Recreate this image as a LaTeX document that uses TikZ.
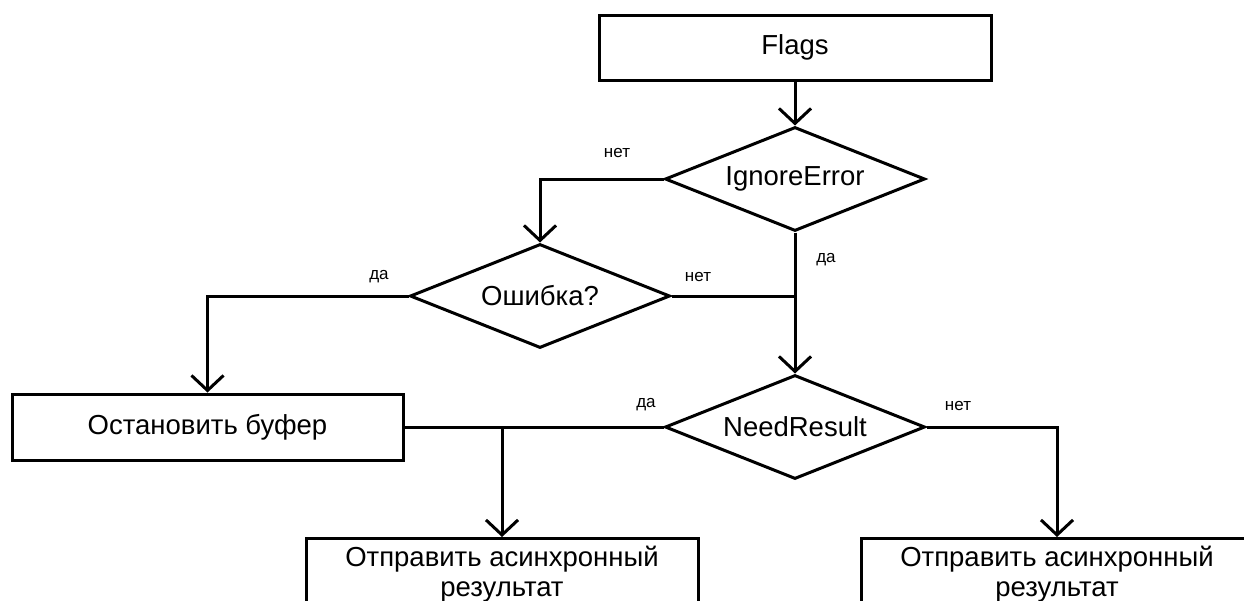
\documentclass[tikz,border=0pt]{standalone}
\usepackage{fontspec}
\setmainfont{Liberation Sans}
\usetikzlibrary{shapes.geometric,arrows.meta}
\begin{document}
\begin{tikzpicture}[x=1pt,y=-1pt,
  every node/.style={font=\fontsize{27.5}{29.5}\selectfont},
  box/.style={draw,line width=3pt,rectangle,inner sep=0pt},
  dec/.style={draw,line width=3pt,diamond,minimum width=260pt,minimum height=104pt,inner sep=0pt,aspect=2.5},
  wire/.style={line width=3pt},
  conn/.style={wire,-{Straight Barb[length=15pt,width=32pt,line width=3pt]}},
  lab/.style={font=\fontsize{17}{19}\selectfont,inner sep=0pt}]
\useasboundingbox (0,0) rectangle (1244,600);
\clip (0,0) rectangle (1244,600);
\fill[white] (0,0) rectangle (1244,600);

\node[box,minimum width=392pt,minimum height=65pt] (flags) at (795,47.5) {Flags};
\node[dec] (ign) at (795,179) {IgnoreError};
\node[dec] (err) at (540,296) {Ошибка?};
\node[dec] (need) at (795,427) {NeedResult};
\node[box,minimum width=391pt,minimum height=66pt] (stop) at (207.5,427) {Остановить буфер};
\node[box,anchor=north,minimum width=392pt,align=center,inner ysep=8pt] (send1) at (502,537) {Отправить асинхронный\\результат};
\node[box,anchor=north,minimum width=392pt,align=center,inner ysep=8pt] (send2) at (1057,537) {Отправить асинхронный\\результат};

\coordinate (j1) at (ign.south |- err.east);
\coordinate (j2) at (send1.north |- need.west);

\draw[conn] (flags.south) -- (ign.north);
\draw[conn] (ign.west) -| (err.north);
\draw[conn] (err.west) -| (stop.north);
\draw[wire] (err.east) -- (j1);
\draw[conn] (ign.south) -- (need.north);
\draw[wire] (need.west) -- (stop.east);
\draw[conn] (j2) -- (send1.north);
\draw[conn] (need.east) -| (send2.north);

\node[lab] (l1) at (617,153) {нет};
\node[lab] (l2) at (826,260) {да};
\node[lab] (l3) at (379,277) {да};
\node[lab] (l4) at (698,277) {нет};
\node[lab] (l5) at (646,405) {да};
\node[lab] (l6) at (958,406) {нет};
\end{tikzpicture}
\end{document}
